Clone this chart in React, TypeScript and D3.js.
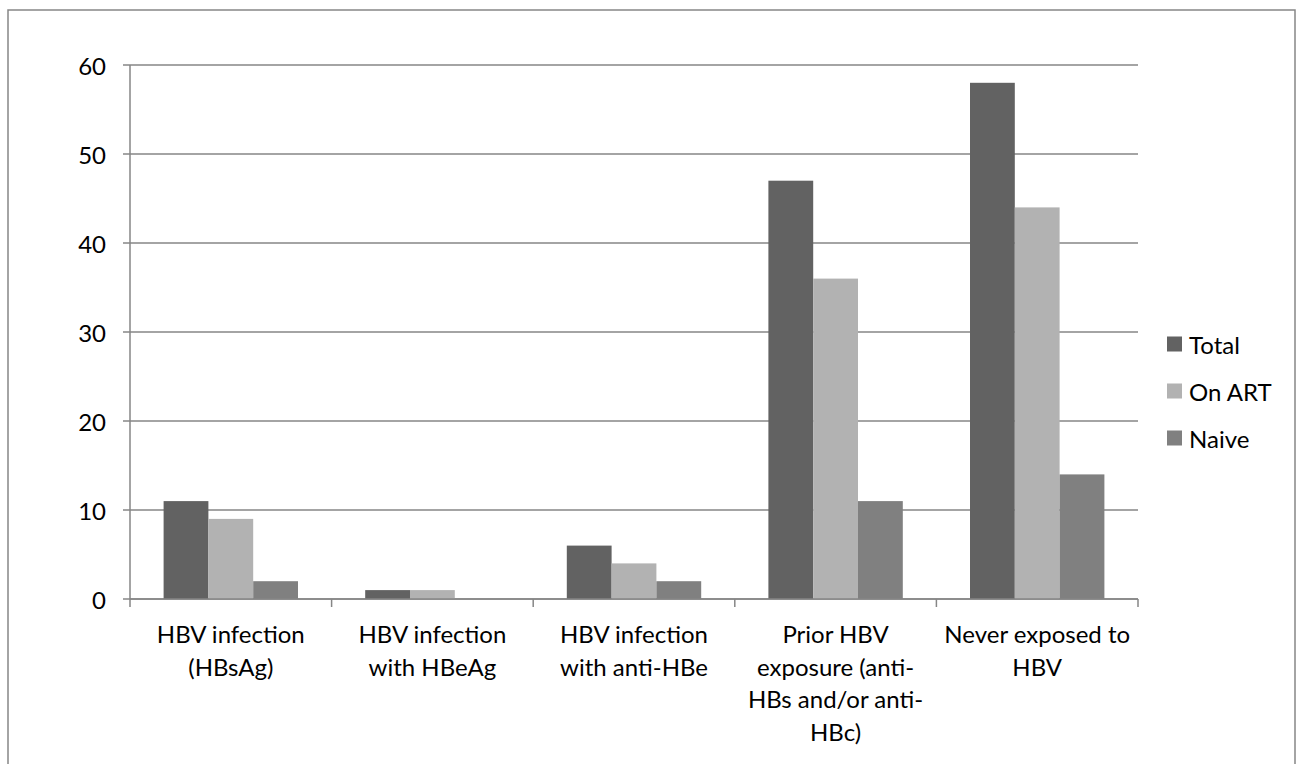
import React, { useRef, useEffect } from 'react';
import * as d3 from 'd3';

const categories = [
  ['HBV infection', '(HBsAg)'],
  ['HBV infection', 'with HBeAg'],
  ['HBV infection', 'with anti-HBe'],
  ['Prior HBV', 'exposure (anti-', 'HBs and/or anti-', 'HBc)'],
  ['Never exposed to', 'HBV'],
];
const seriesNames = ['Total', 'On ART', 'Naive'];
const totalValues = [11, 1, 6, 47, 58];
const onArtValues = [9, 1, 4, 36, 44];
const naiveValues = [2, 0, 2, 11, 14];
const yTicks = [0, 10, 20, 30, 40, 50, 60];

const seriesColors = ['#626262', '#b2b2b2', '#808080'];
const FONT = 'Lato, "Liberation Sans", sans-serif';
const FONT_SIZE = '24px';

const App: React.FC = () => {
  const svgRef = useRef<SVGSVGElement>(null);
  const width = 1301;
  const height = 764;

  useEffect(() => {
    if (!svgRef.current) return;
    const svg = d3.select(svgRef.current);
    svg.selectAll('*').remove();

    const plot = { left: 130, right: 1138, top: 65, bottom: 599 };
    const values = [totalValues, onArtValues, naiveValues];
    const keys = categories.map((_, i) => String(i));

    // outer chart frame
    svg.append('rect')
      .attr('x', 8).attr('y', 10)
      .attr('width', 1287).attr('height', 780)
      .attr('fill', '#fff')
      .attr('stroke', '#868686')
      .attr('stroke-width', 1.5);

    const x0 = d3.scaleBand().domain(keys).range([plot.left, plot.right]).padding(0);
    const x1 = d3.scaleBand().domain(seriesNames).range([0, x0.bandwidth()])
      .paddingInner(0).paddingOuter(0.75);
    const y = d3.scaleLinear().domain([0, 60]).range([plot.bottom, plot.top]);

    // gridlines + y ticks
    yTicks.forEach(t => {
      svg.append('line')
        .attr('x1', plot.left - 7).attr('x2', plot.right)
        .attr('y1', y(t)).attr('y2', y(t))
        .attr('stroke', '#868686').attr('stroke-width', 1.5);
      svg.append('text')
        .attr('x', 106).attr('y', y(t))
        .attr('text-anchor', 'end')
        .attr('dominant-baseline', 'central')
        .attr('font-family', FONT)
        .attr('font-size', FONT_SIZE)
        .attr('fill', '#000')
        .text(t);
    });

    // bars
    keys.forEach((k, ci) => {
      seriesNames.forEach((s, si) => {
        const v = values[si][ci];
        if (v <= 0) return;
        svg.append('rect')
          .attr('x', x0(k)! + x1(s)!)
          .attr('y', y(v))
          .attr('width', x1.bandwidth())
          .attr('height', y(0) - y(v))
          .attr('fill', seriesColors[si]);
      });
    });

    // y axis line
    svg.append('line')
      .attr('x1', plot.left).attr('x2', plot.left)
      .attr('y1', plot.top).attr('y2', plot.bottom)
      .attr('stroke', '#868686').attr('stroke-width', 1.5);

    // x axis line and category ticks
    svg.append('line')
      .attr('x1', plot.left).attr('x2', plot.right)
      .attr('y1', plot.bottom).attr('y2', plot.bottom)
      .attr('stroke', '#868686').attr('stroke-width', 1.5);
    const bounds = keys.map(k => x0(k)!).concat([plot.right]);
    bounds.forEach(bx => {
      svg.append('line')
        .attr('x1', bx).attr('x2', bx)
        .attr('y1', plot.bottom).attr('y2', plot.bottom + 8)
        .attr('stroke', '#868686').attr('stroke-width', 1.5);
    });

    // category labels
    keys.forEach((k, ci) => {
      const cx = x0(k)! + x0.bandwidth() / 2;
      const t = svg.append('text')
        .attr('text-anchor', 'middle')
        .attr('font-family', FONT)
        .attr('font-size', FONT_SIZE)
        .attr('fill', '#000');
      categories[ci].forEach((line, li) => {
        t.append('tspan')
          .attr('x', cx)
          .attr('y', 643 + li * 32.5)
          .text(line);
      });
    });

    // legend
    const legend = svg.append('g');
    seriesNames.forEach((s, i) => {
      const cy = 344 + i * 47;
      legend.append('rect')
        .attr('x', 1167).attr('y', cy - 7.5)
        .attr('width', 15).attr('height', 15)
        .attr('fill', seriesColors[i]);
      legend.append('text')
        .attr('x', 1189).attr('y', cy)
        .attr('dominant-baseline', 'central')
        .attr('font-family', FONT)
        .attr('font-size', FONT_SIZE)
        .attr('fill', '#000')
        .text(s);
    });
  }, []);

  return (
    <svg
      ref={svgRef}
      width={width}
      height={height}
      style={{ position: 'absolute', left: 0, top: 0, background: '#fff' }}
    />
  );
};

export default App;
